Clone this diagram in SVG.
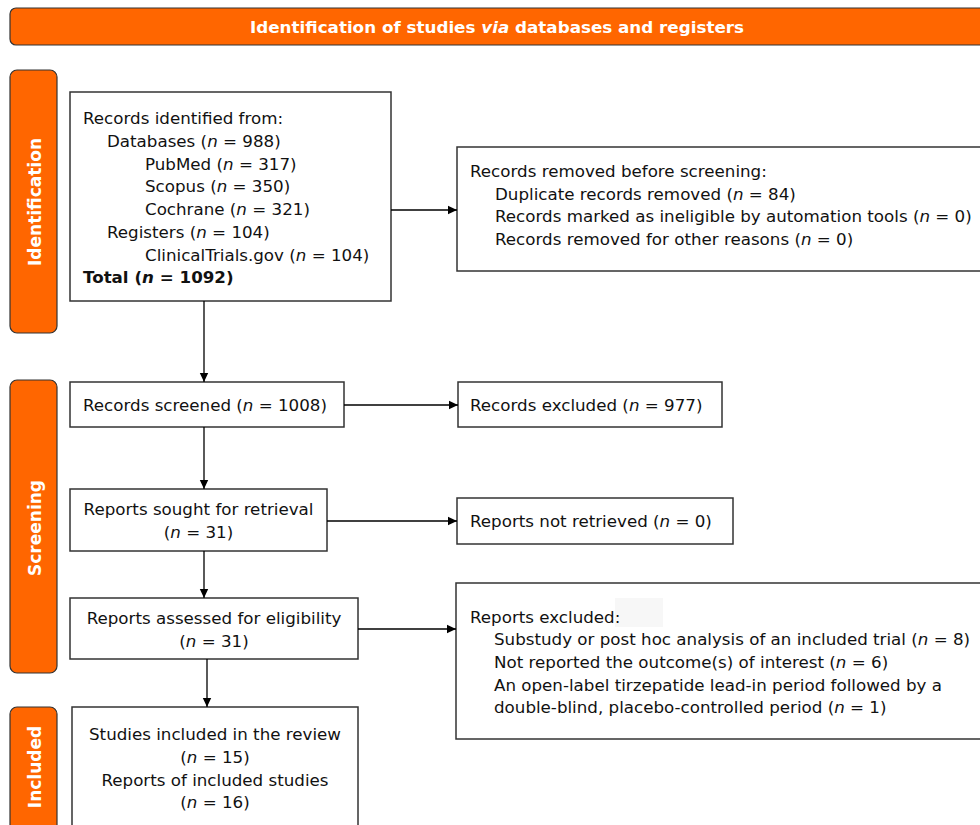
<svg xmlns="http://www.w3.org/2000/svg" width="980" height="825" viewBox="0 0 980 825">
<defs>
<marker id="ah" markerWidth="10" markerHeight="10" refX="9" refY="5" orient="auto" markerUnits="userSpaceOnUse">
<path d="M0,0.8 L9,5 L0,9.2 Z" fill="#000"/>
</marker>
<style>
.box{fill:#fff;stroke:#333;stroke-width:1.5}
.side{fill:#ff6600;stroke:#333;stroke-width:1.2}
.t{font-family:"DejaVu Sans",Verdana,sans-serif;font-size:16.7px;fill:#111}
.c{text-anchor:middle}
.lab{font-family:"DejaVu Sans",Verdana,sans-serif;font-size:17px;font-weight:bold;fill:#fff;text-anchor:middle}
.i{font-style:italic}
.con{stroke:#000;stroke-width:1.3;fill:none;marker-end:url(#ah)}
</style>
</defs>
<rect width="980" height="825" fill="#fff"/>

<g id="banner">
<rect class="side" x="10" y="8" width="985" height="37" rx="6"/>
<text class="lab" x="497" y="32.5" style="font-size:16px" textLength="494" lengthAdjust="spacingAndGlyphs">Identification of studies <tspan class="i">via</tspan> databases and registers</text>
</g>

<g id="phase-identification">
<rect class="side" x="10" y="70" width="47" height="263" rx="7"/>
<text class="lab" transform="translate(41,202) rotate(-90)">Identification</text>
</g>
<g id="phase-screening">
<rect class="side" x="10" y="380" width="47" height="293" rx="7"/>
<text class="lab" transform="translate(41,528) rotate(-90)">Screening</text>
</g>
<g id="phase-included">
<rect class="side" x="10" y="707" width="47" height="130" rx="7"/>
<text class="lab" transform="translate(41,767) rotate(-90)">Included</text>
</g>

<g id="records-identified">
<rect class="box" x="70" y="92" width="321" height="209"/>
<text class="t" x="83" y="124">Records identified from:</text>
<text class="t" x="107" y="147">Databases (<tspan class="i">n</tspan> = 988)</text>
<text class="t" x="145" y="170">PubMed (<tspan class="i">n</tspan> = 317)</text>
<text class="t" x="145" y="192">Scopus (<tspan class="i">n</tspan> = 350)</text>
<text class="t" x="145" y="215">Cochrane (<tspan class="i">n</tspan> = 321)</text>
<text class="t" x="107" y="238">Registers (<tspan class="i">n</tspan> = 104)</text>
<text class="t" x="145" y="261">ClinicalTrials.gov (<tspan class="i">n</tspan> = 104)</text>
<text class="t" x="83" y="283" font-weight="bold">Total (<tspan class="i">n</tspan> = 1092)</text>
</g>

<g id="records-removed">
<rect class="box" x="457" y="147" width="540" height="124"/>
<text class="t" x="470" y="177">Records removed before screening:</text>
<text class="t" x="495" y="200">Duplicate records removed (<tspan class="i">n</tspan> = 84)</text>
<text class="t" x="495" y="222">Records marked as ineligible by automation tools (<tspan class="i">n</tspan> = 0)</text>
<text class="t" x="495" y="245">Records removed for other reasons (<tspan class="i">n</tspan> = 0)</text>
</g>

<g id="records-screened">
<rect class="box" x="70" y="382" width="274" height="45"/>
<text class="t" x="83" y="411">Records screened (<tspan class="i">n</tspan> = 1008)</text>
</g>

<g id="records-excluded">
<rect class="box" x="458" y="382" width="264" height="45"/>
<text class="t" x="470" y="411">Records excluded (<tspan class="i">n</tspan> = 977)</text>
</g>

<g id="reports-sought">
<rect class="box" x="70" y="489" width="257" height="62"/>
<text class="t c" x="198.5" y="515">Reports sought for retrieval</text>
<text class="t c" x="198.5" y="538">(<tspan class="i">n</tspan> = 31)</text>
</g>

<g id="reports-not-retrieved">
<rect class="box" x="457" y="498" width="276" height="46"/>
<text class="t" x="470" y="527">Reports not retrieved (<tspan class="i">n</tspan> = 0)</text>
</g>

<g id="reports-assessed">
<rect class="box" x="70" y="598" width="288" height="61"/>
<text class="t c" x="214" y="624">Reports assessed for eligibility</text>
<text class="t c" x="214" y="647">(<tspan class="i">n</tspan> = 31)</text>
</g>

<g id="reports-excluded">
<rect class="box" x="456" y="583" width="540" height="156"/>
<rect x="615" y="598" width="48" height="29" fill="#f7f7f7"/>
<text class="t" x="470" y="623">Reports excluded:</text>
<text class="t" x="494" y="645">Substudy or post hoc analysis of an included trial (<tspan class="i">n</tspan> = 8)</text>
<text class="t" x="494" y="668">Not reported the outcome(s) of interest (<tspan class="i">n</tspan> = 6)</text>
<text class="t" x="494" y="691">An open-label tirzepatide lead-in period followed by a</text>
<text class="t" x="494" y="713">double-blind, placebo-controlled period (<tspan class="i">n</tspan> = 1)</text>
</g>

<g id="studies-included">
<rect class="box" x="72" y="707" width="286" height="130"/>
<text class="t c" x="215" y="740">Studies included in the review</text>
<text class="t c" x="215" y="763">(<tspan class="i">n</tspan> = 15)</text>
<text class="t c" x="215" y="786">Reports of included studies</text>
<text class="t c" x="215" y="808">(<tspan class="i">n</tspan> = 16)</text>
</g>

<g id="connectors">
<line class="con" x1="391" y1="210" x2="457" y2="210"/>
<line class="con" x1="204" y1="301" x2="204" y2="382"/>
<line class="con" x1="344" y1="405" x2="458" y2="405"/>
<line class="con" x1="204" y1="427" x2="204" y2="489"/>
<line class="con" x1="327" y1="521" x2="457" y2="521"/>
<line class="con" x1="204" y1="551" x2="204" y2="598"/>
<line class="con" x1="358" y1="629" x2="456" y2="629"/>
<line class="con" x1="207" y1="659" x2="207" y2="707"/>
</g>
</svg>
